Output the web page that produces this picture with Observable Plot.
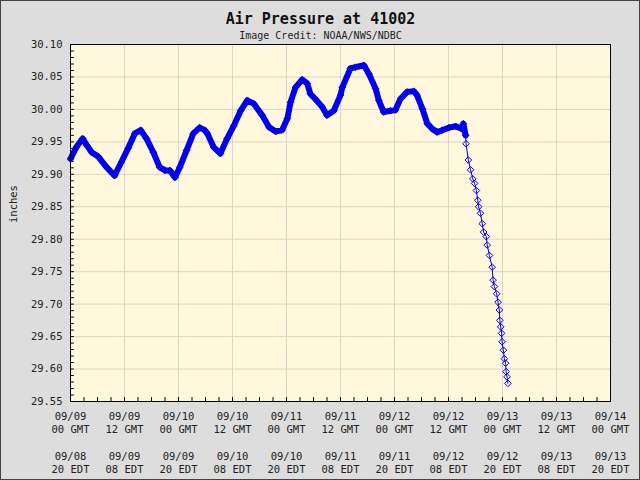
<!DOCTYPE html>
<html><head><meta charset="utf-8">
<script src="https://cdn.jsdelivr.net/npm/d3@7"></script>
<script src="https://cdn.jsdelivr.net/npm/@observablehq/plot@0.6"></script>
<style>
body{margin:0;background:#fff}
#chart svg{display:block;outline:1px solid #444;outline-offset:-1px}
</style>
</head><body><div id="chart"></div>
<script>
const title = "Air Pressure at 41002";
const subtitle = "Image Credit: NOAA/NWS/NDBC";
const yLabel = "inches";

// hours since 09/09 00 GMT
const hours = [0,1.3,2.7,3.6,4.7,6.2,8.0,9.8,11.3,12.8,14.3,15.6,16.9,18.4,19.8,21.0,22.1,23.2,24.3,25.8,27.3,28.7,29.8,
  30.4,31.8,33.3,34.8,36.3,37.8,39.3,40.7,42.6,44.1,45.6,47.0,48.2,48.9,50.0,51.5,52.6,53.3,54.4,55.9,57.0,58.5,60.0,60.4,
  62.2,63.3,65.2,66.3,67.8,68.5,69.6,71.1,72.2,73.3,74.8,76.3,77.0,78.2,79.3,80.4,81.5,82.6,84.1,85.6,87.0,87.3,87.8,
  87.9,88.4,88.9,89.4,89.8,90.2,90.5,90.7,91.1,91.5,91.8,92.4,92.6,93.1,93.7,93.9,94.2,94.7,95.0,95.3,95.4,95.6,95.8,95.9,96.2,96.4,96.7,96.8,97.0,97.2];
const pressure = [29.924,29.942,29.955,29.945,29.934,29.927,29.911,29.898,29.919,29.940,29.963,29.968,29.955,29.934,29.911,29.906,29.906,29.895,29.911,29.937,29.963,29.972,29.968,
  29.963,29.942,29.932,29.955,29.975,29.998,30.014,30.009,29.991,29.973,29.966,29.968,29.986,30.011,30.034,30.046,30.040,30.024,30.016,30.004,29.991,29.998,30.022,30.034,
  30.063,30.065,30.068,30.055,30.032,30.014,29.996,29.998,29.999,30.016,30.027,30.028,30.022,30.001,29.978,29.970,29.965,29.968,29.972,29.974,29.970,29.978,29.960,
  29.947,29.922,29.907,29.893,29.886,29.875,29.860,29.850,29.840,29.824,29.811,29.804,29.791,29.775,29.757,29.737,29.727,29.716,29.703,29.691,29.675,29.665,29.655,29.642,29.629,29.616,29.609,29.596,29.588,29.578];

const xTickHours = [0,12,24,36,48,60,72,84,96,108,120];
const gmtDates = ["09/09","09/09","09/10","09/10","09/11","09/11","09/12","09/12","09/13","09/13","09/14"];
const gmtHours = ["00 GMT","12 GMT","00 GMT","12 GMT","00 GMT","12 GMT","00 GMT","12 GMT","00 GMT","12 GMT","00 GMT"];
const edtDates = ["09/08","09/09","09/09","09/10","09/10","09/11","09/11","09/12","09/12","09/13","09/13"];
const edtHours = ["20 EDT","08 EDT","20 EDT","08 EDT","20 EDT","08 EDT","20 EDT","08 EDT","20 EDT","08 EDT","20 EDT"];
const xMinorHours = d3.range(0, 121, 3);
const yTicks = [29.55,29.60,29.65,29.70,29.75,29.80,29.85,29.90,29.95,30.00,30.05,30.10];
const yTickLabels = ["29.55","29.60","29.65","29.70","29.75","29.80","29.85","29.90","29.95","30.00","30.05","30.10"];
const yMinor = d3.range(0, 56).map(i => +(29.55 + i * 0.01).toFixed(2));

const data = hours.map((h, i) => ({h, p: pressure[i]}));
const dense = data.filter(d => d.h <= 87.8);

const blue = "#0000ee";
const grid = "#d9d6cb";

const chart = Plot.plot({
  width: 640, height: 480,
  marginLeft: 70, marginRight: 30, marginTop: 44, marginBottom: 79,
  style: {background: "#dddddd", fontFamily: "DejaVu Sans Mono, monospace", fontSize: "10.5px", color: "black"},
  x: {domain: [0, 120], axis: null},
  y: {domain: [29.55, 30.10], axis: null},
  marks: [
    Plot.frame({fill: "#fff8dc", stroke: null}),
    Plot.ruleX(xTickHours.slice(1, -1), {stroke: grid}),
    Plot.ruleY(yTicks.slice(1, -1), {stroke: grid}),
    Plot.ruleY(yMinor, {y: d => d, x1: 0, x2: 0.85, stroke: "black"}),
    Plot.ruleX(xMinorHours, {x: d => d, y1: 29.55, y2: 29.556, stroke: "black"}),
    Plot.line(dense, {x: "h", y: "p", stroke: blue, strokeWidth: 6}),
    Plot.line(data, {x: "h", y: "p", stroke: blue, strokeWidth: 1}),
    Plot.dot(data, {x: "h", y: "p", symbol: "diamond2", r: 3, stroke: blue, strokeWidth: 1}),
    Plot.frame({stroke: "black", fill: null}),
    Plot.text(yTicks, {y: d => d, text: (d, i) => yTickLabels[i], frameAnchor: "left", dx: -8, textAnchor: "end", fill: "#222"}),
    Plot.text(xTickHours, {x: d => d, text: (d, i) => `${gmtDates[i]}\n${gmtHours[i]}\n\n${edtDates[i]}\n${edtHours[i]}`,
      frameAnchor: "bottom", lineAnchor: "top", dy: 9, lineHeight: 1.27, fill: "#222"}),
    Plot.text([yLabel], {frameAnchor: "left", dx: -57, rotate: -90, fill: "#222"}),
    Plot.text([title], {frameAnchor: "top", dx: -20, dy: -31, fontSize: 15, fontWeight: "bold", fill: "#111"}),
    Plot.text([subtitle], {frameAnchor: "top", dx: -20, dy: -13, fontSize: 10, fill: "#222"})
  ]
});
document.getElementById("chart").append(chart);
</script>
</body></html>
